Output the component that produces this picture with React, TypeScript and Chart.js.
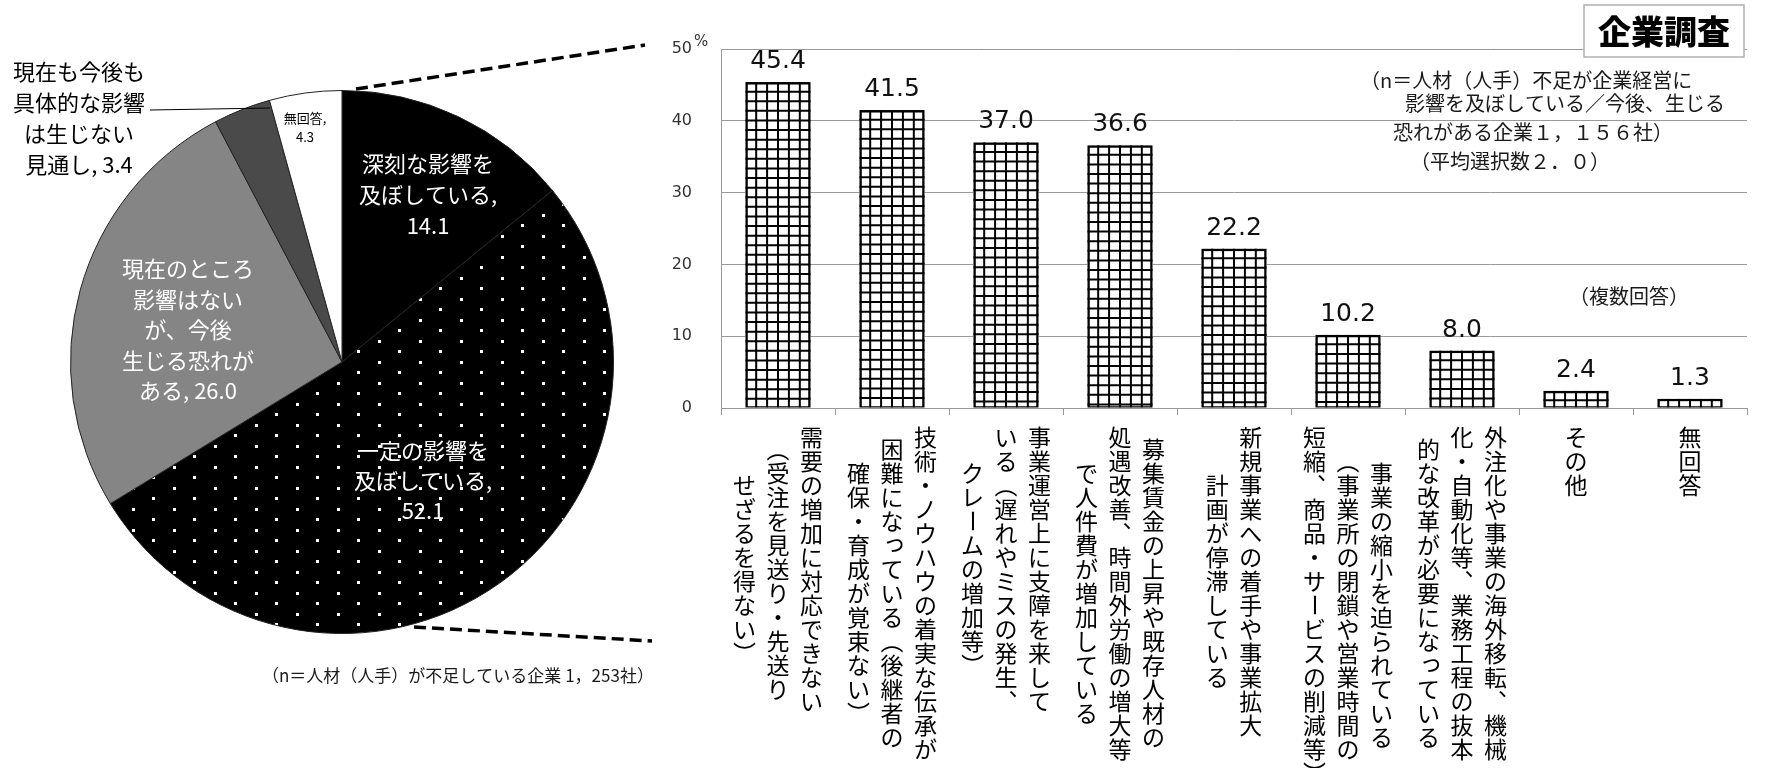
import React, { useEffect, useRef } from "react";
import { Chart, registerables } from "chart.js";

Chart.register(...registerables);

const JP = '"Noto Sans CJK JP", "Noto Sans CJK SC", sans-serif';
const NUM = '"DejaVu Sans", sans-serif';

// ---------- Bar chart data ----------
const barLabelColumns: string[][] = [
  ["需要の増加に対応できない", "（受注を見送り・先送り", "せざるを得ない）"],
  ["技術・ノウハウの着実な伝承が", "困難になっている（後継者の", "確保・育成が覚束ない）"],
  ["事業運営上に支障を来して", "いる（遅れやミスの発生、", "クレームの増加等）"],
  ["募集賃金の上昇や既存人材の", "処遇改善、時間外労働の増大等", "で人件費が増加している"],
  ["新規事業への着手や事業拡大", "計画が停滞している"],
  ["事業の縮小を迫られている", "（事業所の閉鎖や営業時間の", "短縮、商品・サービスの削減等）"],
  ["外注化や事業の海外移転、機械", "化・自動化等、業務工程の抜本", "的な改革が必要になっている"],
  ["その他"],
  ["無回答"],
];
const barCategories = barLabelColumns.map((c) => c.join(""));
const barValues = [45.4, 41.5, 37.0, 36.6, 22.2, 10.2, 8.0, 2.4, 1.3];
const yMin = 0;
const yMax = 50;
const yStep = 10;
const yUnit = "%";
const barNote = [
  "（n＝人材（人手）不足が企業経営に",
  "影響を及ぼしている／今後、生じる",
  "恐れがある企業１，１５６社）",
  "（平均選択数２．０）",
];
const multiNote = "（複数回答）";
const surveyTag = "企業調査";

// ---------- Pie chart data ----------
const pieCategories = [
  "深刻な影響を及ぼしている",
  "一定の影響を及ぼしている",
  "現在のところ影響はないが、今後生じる恐れがある",
  "現在も今後も具体的な影響は生じない見通し",
  "無回答",
];
const pieValues = [14.1, 52.1, 26.0, 3.4, 4.3];
const pieLabelLines: string[][] = [
  ["深刻な影響を", "及ぼしている,", "{v}"],
  ["一定の影響を", "及ぼしている,", "{v}"],
  ["現在のところ", "影響はない", "が、今後", "生じる恐れが", "ある, {v}"],
  ["現在も今後も", "具体的な影響", "は生じない", "見通し, {v}"],
  ["無回答,", "{v}"],
];
const pieNote = "（n＝人材（人手）が不足している企業 1，253社）";

// ---------- Layout / style constants ----------
const PIE_COLORS_FLAT = ["#000000", "DOTS", "#858585", "#4a4a4a", "#ffffff"];
const PIE_LABEL_LAYOUT = [
  { x: 428, y: 164, lh: 31, size: 22, color: "#ffffff" },
  { x: 423, y: 451, lh: 30, size: 22, color: "#ffffff" },
  { x: 188, y: 269, lh: 30.5, size: 22, color: "#ffffff" },
  { x: 79, y: 72, lh: 31, size: 22, color: "#000000" },
  { x: 305, y: 118, lh: 19, size: 13, color: "#000000" },
];
const BAR_NOTE_POS = [
  [1360, 80],
  [1405, 103],
  [1393, 132],
  [1410, 161],
];

const VMAP: Record<string, string> = { "（": "︵", "）": "︶", "、": "︑", "，": "︐" };
const ROTATE = new Set(["ー", "－", "〜", "～"]);
const SMALL = new Set(["っ", "ッ", "ゃ", "ゅ", "ょ", "ャ", "ュ", "ョ", "ぁ", "ぃ", "ぅ", "ぇ", "ぉ", "ァ", "ィ", "ゥ", "ェ", "ォ"]);

function drawVerticalColumn(ctx: CanvasRenderingContext2D, text: string, x: number, top: number, adv: number) {
  const chars = Array.from(text);
  chars.forEach((ch, k) => {
    const cy = top + k * adv + adv / 2;
    const g = VMAP[ch] ?? ch;
    ctx.save();
    if (ROTATE.has(ch)) {
      ctx.translate(x, cy);
      ctx.rotate(Math.PI / 2);
      ctx.fillText(g, 0, 0);
    } else if (SMALL.has(ch)) {
      ctx.fillText(g, x + adv * 0.1, cy - adv * 0.1);
    } else {
      ctx.fillText(g, x, cy);
    }
    ctx.restore();
  });
}

function makeDotPattern(): CanvasPattern | string {
  const c = document.createElement("canvas");
  c.width = 41;
  c.height = 21;
  const g = c.getContext("2d");
  if (!g) return "#000";
  g.fillStyle = "#000";
  g.fillRect(0, 0, 41, 21);
  g.fillStyle = "#fff";
  g.fillRect(9, 4, 3, 3);
  g.fillRect(29, 14, 3, 3);
  return g.createPattern(c, "repeat") || "#000";
}

const barDecor = {
  id: "barDecor",
  afterDatasetsDraw(chart: any) {
    const ctx: CanvasRenderingContext2D = chart.ctx;
    const meta = chart.getDatasetMeta(0);
    meta.data.forEach((el: any) => {
      const { x, y, base, width } = el.getProps(["x", "y", "base", "width"], true);
      const l = x - width / 2;
      const h = base - y;
      ctx.save();
      ctx.beginPath();
      ctx.rect(l, y, width, h);
      ctx.clip();
      ctx.strokeStyle = "#000";
      ctx.lineWidth = 2;
      const cols = 6;
      const cw = width / cols;
      ctx.beginPath();
      for (let i = 1; i < cols; i++) {
        ctx.moveTo(l + i * cw, y);
        ctx.lineTo(l + i * cw, base);
      }
      const ch = 9.6;
      for (let yy = y + ch; yy < base; yy += ch) {
        ctx.moveTo(l, yy);
        ctx.lineTo(l + width, yy);
      }
      ctx.stroke();
      ctx.lineWidth = 2.5;
      ctx.strokeRect(l + 1.25, y + 1.25, width - 2.5, h - 1.25);
      ctx.restore();
    });
  },
  afterDraw(chart: any) {
    const ctx: CanvasRenderingContext2D = chart.ctx;
    const xs = chart.scales.x;
    const ys = chart.scales.y;
    const meta = chart.getDatasetMeta(0);
    ctx.save();
    // value labels
    ctx.fillStyle = "#111";
    ctx.font = `25px ${NUM}`;
    ctx.textAlign = "center";
    ctx.textBaseline = "alphabetic";
    meta.data.forEach((el: any, i: number) => {
      const { x, y } = el.getProps(["x", "y"], true);
      ctx.fillText(barValues[i].toFixed(1), x, y - 14);
    });
    // unit
    ctx.font = `15px ${NUM}`;
    ctx.fillStyle = "#333";
    ctx.textAlign = "left";
    ctx.textBaseline = "middle";
    ctx.fillText(yUnit, ys.right - 27, ys.getPixelForValue(yMax) - 7);
    // vertical category labels
    const adv = 24;
    const colGap = 33.5;
    const top = xs.top + 17;
    ctx.font = `23px ${JP}`;
    ctx.fillStyle = "#000";
    ctx.textAlign = "center";
    ctx.textBaseline = "middle";
    barLabelColumns.forEach((cols, i) => {
      const cx = xs.getPixelForValue(i);
      const n = cols.length;
      const maxLen = Math.max(...cols.map((c) => Array.from(c).length));
      cols.forEach((col, j) => {
        const colX = cx + ((n - 1) / 2 - j) * colGap;
        const len = Array.from(col).length;
        drawVerticalColumn(ctx, col, colX, top + ((maxLen - len) * adv) / 2, adv);
      });
    });
    // notes
    ctx.font = `20px ${JP}`;
    ctx.fillStyle = "#1a1a1a";
    ctx.textAlign = "left";
    ctx.textBaseline = "middle";
    barNote.forEach((t, i) => ctx.fillText(t, BAR_NOTE_POS[i][0], BAR_NOTE_POS[i][1]));
    ctx.fillText(multiNote, 1569, 296);
    // survey tag box
    ctx.fillStyle = "#fff";
    ctx.fillRect(1584, 5, 160, 52);
    ctx.strokeStyle = "#b0b0b0";
    ctx.lineWidth = 1.5;
    ctx.strokeRect(1584, 5, 160, 52);
    ctx.fillStyle = "#000";
    ctx.font = `900 33px ${JP}`;
    ctx.textAlign = "center";
    ctx.fillText(surveyTag, 1664, 31);
    // dashed connectors from pie
    ctx.strokeStyle = "#000";
    ctx.lineWidth = 3.5;
    ctx.setLineDash([12, 6]);
    ctx.beginPath();
    ctx.moveTo(356, 89);
    ctx.lineTo(645, 45);
    ctx.moveTo(414, 627);
    ctx.lineTo(652, 641);
    ctx.stroke();
    ctx.restore();
  },
};

const pieDecor = {
  id: "pieDecor",
  afterDraw(chart: any) {
    const ctx: CanvasRenderingContext2D = chart.ctx;
    ctx.save();
    ctx.textAlign = "center";
    ctx.textBaseline = "middle";
    pieLabelLines.forEach((lines, i) => {
      const L = PIE_LABEL_LAYOUT[i];
      ctx.font = `${L.size}px ${JP}`;
      ctx.fillStyle = L.color;
      lines.forEach((ln, k) => {
        const t = ln.replace("{v}", pieValues[i].toFixed(1));
        ctx.fillText(t, L.x, L.y + k * L.lh);
      });
    });
    // leader line for the small dark slice
    ctx.strokeStyle = "#000";
    ctx.lineWidth = 1;
    ctx.beginPath();
    ctx.moveTo(150, 110);
    ctx.lineTo(270, 108);
    ctx.stroke();
    // footnote
    ctx.font = `17px ${JP}`;
    ctx.fillStyle = "#1a1a1a";
    ctx.textAlign = "left";
    ctx.fillText(pieNote, 262, 676);
    ctx.restore();
  },
};

export default function App() {
  const barRef = useRef<HTMLCanvasElement>(null);
  const pieRef = useRef<HTMLCanvasElement>(null);

  useEffect(() => {
    if (!barRef.current || !pieRef.current) return;
    const bar = new Chart(barRef.current, {
      type: "bar",
      data: {
        labels: barCategories,
        datasets: [
          {
            data: barValues,
            backgroundColor: "#ffffff",
            borderWidth: 0,
            barPercentage: 0.574,
            categoryPercentage: 1,
          },
        ],
      },
      options: {
        animation: false,
        responsive: false,
        events: [],
        layout: { padding: { left: 661, right: 19, top: 49, bottom: 0 } },
        plugins: { legend: { display: false }, tooltip: { enabled: false } },
        scales: {
          x: {
            offset: true,
            grid: {
              display: true,
              offset: true,
              drawOnChartArea: false,
              drawTicks: true,
              tickLength: 7,
              color: "#999",
            },
            border: { display: true, color: "#999", width: 1 },
            ticks: { display: false },
            afterFit: (s: any) => {
              s.height = 360;
            },
          },
          y: {
            min: yMin,
            max: yMax,
            ticks: {
              stepSize: yStep,
              padding: 29,
              color: "#333",
              font: { family: NUM, size: 16 },
            },
            grid: { color: "#9a9a9a", drawTicks: false, lineWidth: 1 },
            border: { display: true, color: "#9a9a9a", width: 1 },
            afterFit: (s: any) => {
              s.width = 60;
            },
          },
        },
      },
      plugins: [barDecor],
    } as any);

    const dots = makeDotPattern();
    const pie = new Chart(pieRef.current, {
      type: "pie",
      data: {
        labels: pieCategories,
        datasets: [
          {
            data: pieValues,
            backgroundColor: PIE_COLORS_FLAT.map((c) => (c === "DOTS" ? dots : c)),
            borderColor: "#222",
            borderWidth: 1,
          },
        ],
      },
      options: {
        animation: false,
        responsive: false,
        events: [],
        layout: { padding: { left: 70, right: 86, top: 90, bottom: 134 } },
        plugins: { legend: { display: false }, tooltip: { enabled: false } },
      },
      plugins: [pieDecor],
    } as any);

    return () => {
      bar.destroy();
      pie.destroy();
    };
  }, []);

  return (
    <div
      style={{
        position: "absolute",
        left: 0,
        top: 0,
        width: 1766,
        height: 768,
        background: "#fff",
        overflow: "hidden",
      }}
    >
      <canvas ref={barRef} width={1766} height={768} style={{ position: "absolute", left: 0, top: 0 }} />
      <canvas ref={pieRef} width={700} height={768} style={{ position: "absolute", left: 0, top: 0 }} />
    </div>
  );
}
